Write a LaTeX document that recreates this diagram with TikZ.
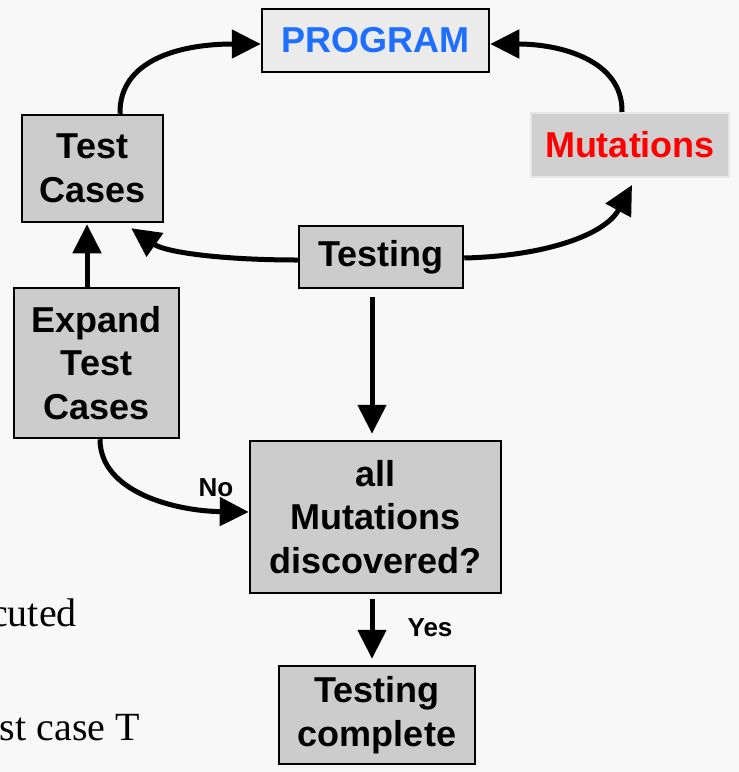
\documentclass[tikz,border=0pt]{standalone}
\usepackage{fontspec}
\setmainfont{Liberation Sans}
\newfontfamily\serifnote{Liberation Serif}
\usetikzlibrary{arrows.meta}
\definecolor{bgpaper}{HTML}{F8F8F8}
\definecolor{boxgray}{HTML}{CCCCCC}
\definecolor{proggray}{HTML}{EBEBEB}
\definecolor{mutgray}{HTML}{D0D0D0}
\definecolor{mutedge}{HTML}{E6E6E6}
\definecolor{progblue}{HTML}{1E6EFF}
\tikzset{
  box/.style={draw=black, line width=2.5pt, fill=boxgray, inner sep=0pt,
    align=center, font=\fontsize{36}{43.5}\selectfont\bfseries},
  arr/.style={line width=5pt, -{Triangle[length=29pt,width=28pt]}},
  lbl/.style={font=\fontsize{26}{30}\selectfont\bfseries, inner sep=0pt},
}
\begin{document}
\begin{tikzpicture}[x=1pt,y=-1pt]
  \useasboundingbox (0,0) rectangle (739,772);
  \fill[bgpaper] (0,0) rectangle (739,772);

  % side notes from the surrounding slide text
  \node[anchor=base east, font=\fontsize{40}{44}\serifnote, inner sep=0pt] (n1) at (77,626) {executed};
  \node[anchor=base east, font=\fontsize{40}{44}\serifnote, inner sep=0pt] (n2) at (140,740) {test case T};

  % boxes
  \node[box, fill=proggray, text=progblue, minimum width=227pt, minimum height=63pt] (prog) at (375.5,40.5) {PROGRAM};
  \node[box, minimum width=141pt, minimum height=107pt] (tc) at (92.5,168.5) {Test\\Cases};
  \node[box, draw=mutedge, line width=2pt, fill=mutgray, text=red, minimum width=198pt, minimum height=64pt] (mut) at (630,145) {Mutations};
  \node[box, minimum width=164pt, minimum height=62pt] (testing) at (381,257) {Testing};
  \node[box, minimum width=165pt, minimum height=150pt] (expand) at (96.5,363) {Expand\\Test\\Cases};
  \node[box, minimum width=251pt, minimum height=152pt] (allm) at (375.5,517) {all\\Mutations\\discovered?};
  \node[box, minimum width=196pt, minimum height=98pt] (done) at (377,715) {Testing\\complete};

  % connector end points
  \coordinate (tcin) at ([xshift=-33pt,yshift=-5pt]tc.south east);
  \coordinate (mutin) at ([xshift=2pt,yshift=-7pt]mut.south);

  % loop around the program
  \draw[arr] ([xshift=27.5pt]tc.north) .. controls (119,60) and (180,44) .. ([yshift=-3.5pt]prog.west);
  \draw[arr] ([xshift=-8pt]mut.north) .. controls (623,60) and (560,44) .. ([yshift=-3.5pt]prog.east);
  \draw[arr] ([yshift=-3pt]testing.west) .. controls (220,260) and (165,252) .. (tcin);
  \draw[arr] ([yshift=-1pt]testing.east) .. controls (545,256) and (605,235) .. (mutin);

  % vertical flow
  \draw[arr, shorten <=8pt, shorten >=6pt] ([xshift=-9pt]testing.south) -- ([xshift=-9pt]testing.south |- allm.north);
  \draw[arr, shorten >=1pt] ([xshift=-9.5pt]expand.north) -- ([xshift=-9.5pt]expand.north |- tc.south);
  \draw[arr, shorten <=5pt, shorten >=6pt] ([xshift=-3.5pt]allm.south) -- ([xshift=-3.5pt]allm.south |- done.north);

  % retry loop
  \draw[arr] ([xshift=3.5pt]expand.south) .. controls (100,492) and (175,511) .. ([yshift=5pt]allm.west);
  \node[lbl] (no) at (216,488) {No};
  \node[lbl] (yes) at (430,628) {Yes};
\end{tikzpicture}
\end{document}
